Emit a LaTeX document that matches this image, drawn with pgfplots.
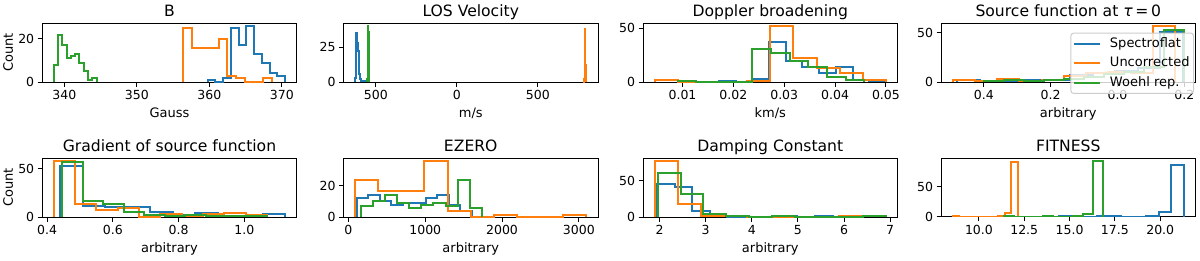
\documentclass[border=0pt]{standalone}
\usepackage{fontspec}
\setmainfont{DejaVu Sans}
\usepackage{pgfplots}
\pgfplotsset{compat=1.18}
\definecolor{c0}{HTML}{1F77B4}
\definecolor{c1}{HTML}{FF7F0E}
\definecolor{c2}{HTML}{2CA02C}
\definecolor{lgd}{HTML}{CCCCCC}
\pgfplotsset{
 every axis title shift=0pt,
 hst/.style={
  scale only axis, width=254.5pt, height=58.7pt, anchor=north west,
  axis line style={line width=1pt},
  every tick/.style={black, line width=1pt},
  major tick length=4.5pt,
  tick align=outside, tick pos=left,
  scaled ticks=false,
  ticklabel style={font=\fontsize{12.5}{14}\selectfont},
  /pgf/number format/assume math mode=true,
  xlabel style={font=\fontsize{13}{15}\selectfont, at={(axis description cs:0.5,0)}, anchor=base, yshift=-35.5pt},
  ylabel style={font=\fontsize{13}{15}\selectfont, at={(axis description cs:-0.134,0.5)}, anchor=center},
  title style={font=\fontsize{15.6}{18}\selectfont, at={(axis description cs:0.5,1)}, anchor=base, yshift=7.2pt},
  ymin=0,
  every axis plot/.append style={const plot, line width=2pt, no markers},
 },
}
\begin{document}
\begin{tikzpicture}
\useasboundingbox (0,0) rectangle (1200pt,-260pt);
% B
\begin{axis}[hst, at={(42.2pt,-23.3pt)}, title={B}, xlabel={Gauss}, ylabel={Count},
  xmin=336.955, xmax=372.045, ymax=27.3, xtick={340,350,360,370}, xticklabels={340,350,360,370}, ytick={0,20}]
\addplot[c0] coordinates {(359.77,0)(359.77,1)(360.84,0)(361.91,2)(362.97,25)(364.04,17)(365.11,26)(366.18,13)(367.25,9)(368.31,4)(369.38,3)(370.45,0)};
\addplot[c1] coordinates {(356.36,0)(356.36,25)(357.59,16)(358.82,16)(360.04,16)(361.27,20)(362.50,3)(363.73,2)(364.96,0)(366.18,0)(367.41,2)(368.64,0)};
\addplot[c2] coordinates {(338.55,0)(338.55,8)(339.14,22)(339.73,17)(340.32,11)(340.91,12)(341.50,13)(342.09,9)(342.68,5)(343.27,1)(343.86,2)(344.45,0)};
\end{axis}
% LOS
\begin{axis}[hst, at={(343.5pt,-23.3pt)}, title={LOS Velocity}, xlabel={m/s},
  xmin=-699.4, xmax=871.4, ymax=42, xtick={-500,0,500}, xticklabels={500,0,500}, ytick={0,25}]
\addplot[c0] coordinates {(-628,0)(-628,3)(-622,35)(-616,28)(-610,22)(-604,6)(-598,2)(-592,1)(-586,1)(-580,1)(-574,1)(-568,0)};
\addplot[c1] coordinates {(784,0)(784,1)(785.6,0)(787.2,2)(788.8,3)(790.4,38)(792,36)(793.6,12)(795.2,5)(796.8,2)(798.4,1)(800,0)};
\addplot[c2] coordinates {(-556,0)(-556,1)(-554.4,1)(-552.8,2)(-551.2,3)(-549.6,6)(-548,40)(-546.4,36)(-544.8,8)(-543.2,2)(-541.6,1)(-540,0)};
\end{axis}
% Doppler
\begin{axis}[hst, at={(643pt,-23.3pt)}, title={Doppler broadening}, xlabel={km/s},
  xmin=0.002225, xmax=0.052275, ymax=54.6, xtick={0.01,0.02,0.03,0.04,0.05}, xticklabels={0.01,0.02,0.03,0.04,0.05}, ytick={0,50}]
\addplot[c0] coordinates {(0.01715,0)(0.01715,1)(0.02044,0)(0.02372,3)(0.02701,37)(0.03029,20)(0.03358,14)(0.03686,8)(0.04015,14)(0.04343,2)(0.04672,1)(0.05,0)};
\addplot[c1] coordinates {(0.0045,0)(0.0045,2)(0.00905,0)(0.0136,0)(0.01815,0)(0.0227,1)(0.02725,52)(0.0318,22)(0.03635,13)(0.0409,8)(0.04545,2)(0.05,0)};
\addplot[c2] coordinates {(0.00902,0)(0.00902,1)(0.0127,0)(0.01637,0)(0.02005,0)(0.02372,31)(0.0274,27)(0.03107,20)(0.03475,14)(0.03842,5)(0.0421,2)(0.04577,0)};
\end{axis}
% Source function
\begin{axis}[hst, at={(941pt,-23.3pt)}, title={Source function at \textit{τ}\,=\,0}, xlabel={arbitrary},
  xmin=-0.528, xmax=0.2334, ymax=59.85, xtick={-0.4,-0.2,0,0.2}, xticklabels={0.4,0.2,0.0,0.2}, ytick={0,50},
  legend style={at={(axis description cs:1,1)}, anchor=north east, xshift=-1.5pt, yshift=-9.4pt,
    fill=white, fill opacity=0.8, draw opacity=1, text opacity=1, draw=lgd, line width=1pt, rounded corners=2.5pt,
    font=\fontsize{13}{15}\selectfont, inner xsep=2pt, inner ysep=2.3pt, row sep=2.3pt, column sep=7pt,
    nodes={inner xsep=2pt, inner ysep=2pt, text height=10pt, text depth=3pt}},
  legend cell align=left,
  legend image code/.code={\draw[#1, line width=2pt] (0pt,0pt) -- (26pt,0pt);}]
\addplot[c0] coordinates {(-0.4787,0)(-0.4787,2)(-0.4112,1)(-0.3438,1)(-0.2763,2)(-0.2088,2)(-0.1414,7)(-0.0739,9)(-0.0064,11)(0.0610,14)(0.1285,51)(0.1959,0)};
\addplot[c1] coordinates {(-0.4934,0)(-0.4934,2)(-0.4268,1)(-0.3603,3)(-0.2937,1)(-0.2272,2)(-0.1606,6)(-0.0940,9)(-0.0275,10)(0.0391,9)(0.1056,57)(0.1722,0)};
\addplot[c2] coordinates {(-0.3999,0)(-0.3999,1)(-0.3400,2)(-0.2801,1)(-0.2203,2)(-0.1604,3)(-0.1006,5)(-0.0407,8)(0.0192,10)(0.0791,15)(0.1389,53)(0.1988,0)};
\legend{Spectroflat,Uncorrected,Woehl rep.}
\end{axis}
% Gradient
\begin{axis}[hst, at={(42.2pt,-158.3pt)}, title={Gradient of source function}, xlabel={arbitrary}, ylabel={Count},
  xmin=0.3852, xmax=1.1595, ymax=60.9, xtick={0.4,0.6,0.8,1.0}, xticklabels={0.4,0.6,0.8,1.0}, ytick={0,50}]
\addplot[c0] coordinates {(0.4405,0)(0.4405,53)(0.5089,11)(0.5773,10)(0.6456,10)(0.7140,5)(0.7824,2)(0.8508,4)(0.9192,1)(0.9875,1)(1.0559,3)(1.1243,0)};
\addplot[c1] coordinates {(0.4204,0)(0.4204,58)(0.4853,13)(0.5501,7)(0.6150,9)(0.6798,0)(0.7447,3)(0.8096,1)(0.8744,3)(0.9393,4)(1.0041,2)(1.0690,0)};
\addplot[c2] coordinates {(0.4465,0)(0.4465,57)(0.5088,17)(0.5710,13)(0.6333,5)(0.6955,2)(0.7578,1)(0.8200,2)(0.8823,1)(0.9445,1)(1.0068,1)(1.0690,0)};
\end{axis}
% EZERO
\begin{axis}[hst, at={(343.5pt,-158.3pt)}, title={EZERO}, xlabel={arbitrary},
  xmin=-64.65, xmax=3249.65, ymax=37.8, xtick={0,1000,2000,3000}, xticklabels={0,1000,2000,3000}, ytick={0,20}]
\addplot[c0] coordinates {(107,0)(107,12)(257,14)(407,10)(557,8)(707,9)(857,9)(1007,12)(1157,14)(1307,8)(1457,4)(1607,0)};
\addplot[c1] coordinates {(86,0)(86,24)(387,17)(689,17)(990,36)(1291,4)(1592,0)(1894,1)(2195,0)(2496,0)(2798,1)(3099,0)};
\addplot[c2] coordinates {(163,0)(163,7)(320,10)(478,14)(635,9)(792,6)(950,8)(1107,9)(1264,7)(1421,24)(1579,6)(1736,0)};
\end{axis}
% Damping
\begin{axis}[hst, at={(643pt,-158.3pt)}, title={Damping Constant}, xlabel={arbitrary},
  xmin=1.642, xmax=7.158, ymax=80.85, xtick={2,3,4,5,6,7}, xticklabels={2,3,4,5,6,7}, ytick={0,50}]
\addplot[c0] coordinates {(1.95,0)(1.95,46)(2.33,42)(2.71,8)(3.09,1)(3.47,0)(3.85,0)(4.23,0)(4.61,1)(4.99,0)(5.37,2)(5.75,0)};
\addplot[c1] coordinates {(1.893,0)(1.893,77)(2.393,18)(2.893,1)(3.393,1)(3.893,0)(4.393,0)(4.893,0)(5.393,0)(5.893,1)(6.393,2)(6.893,0)};
\addplot[c2] coordinates {(1.964,0)(1.964,61)(2.458,32)(2.953,4)(3.447,1)(3.941,0)(4.436,1)(4.930,0)(5.424,0)(5.918,0)(6.413,1)(6.907,0)};
\end{axis}
% FITNESS
\begin{axis}[hst, at={(941pt,-158.3pt)}, title={FITNESS},
  xmin=7.907, xmax=21.947, ymax=96.6, xtick={10,12.5,15,17.5,20}, xticklabels={10.0,12.5,15.0,17.5,20.0}, ytick={0,50}]
\addplot[c0] coordinates {(14.418,0)(14.418,1)(15.107,0)(15.796,0)(16.485,1)(17.174,2)(17.864,0)(18.553,0)(19.242,1)(19.931,9)(20.620,86)(21.309,0)};
\addplot[c1] coordinates {(8.545,0)(8.545,2)(8.903,0)(9.261,0)(9.620,0)(9.978,0)(10.336,0)(10.694,0)(11.052,1)(11.411,6)(11.769,91)(12.127,0)};
\addplot[c2] coordinates {(11.364,0)(11.364,1)(11.913,0)(12.462,0)(13.011,0)(13.560,1)(14.110,0)(14.659,0)(15.208,1)(15.757,5)(16.306,92)(16.855,0)};
\end{axis}
\end{tikzpicture}
\end{document}
